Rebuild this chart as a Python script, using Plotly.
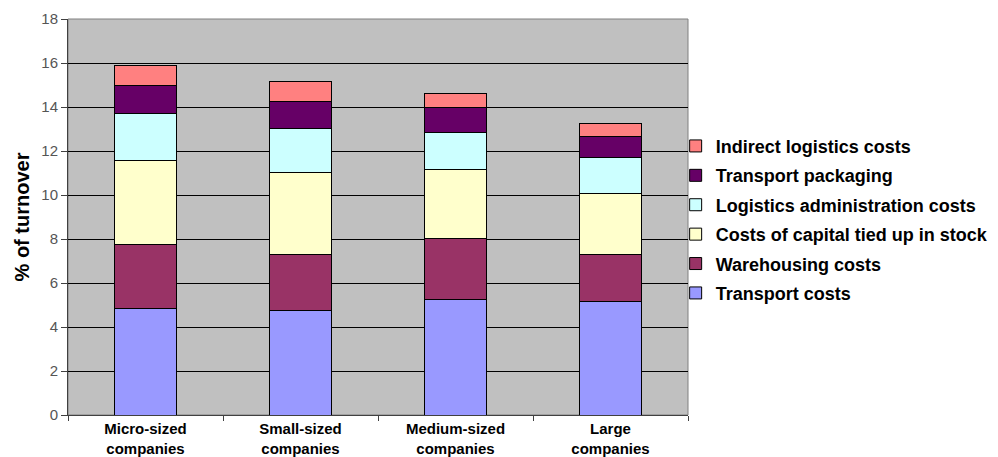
import plotly.graph_objects as go

# Logistics costs as a share of turnover, by company size
categories = [
    "Micro-sized<br>companies",
    "Small-sized<br>companies",
    "Medium-sized<br>companies",
    "Large<br>companies",
]

transport_costs = [4.83, 4.73, 5.27, 5.16]
warehousing_costs = [2.92, 2.58, 2.74, 2.13]
capital_in_stock = [3.84, 3.72, 3.17, 2.78]
admin_costs = [2.13, 1.99, 1.67, 1.64]
transport_packaging = [1.26, 1.25, 1.13, 0.97]
indirect_costs = [0.90, 0.89, 0.65, 0.57]

series = [
    ("Transport costs", transport_costs, "#9999FF"),
    ("Warehousing costs", warehousing_costs, "#993366"),
    ("Costs of capital tied up in stock", capital_in_stock, "#FFFFCC"),
    ("Logistics administration costs", admin_costs, "#CCFFFF"),
    ("Transport packaging", transport_packaging, "#660066"),
    ("Indirect logistics costs", indirect_costs, "#FF8080"),
]

FONT = "Liberation Sans, Arial, sans-serif"

fig = go.Figure()
for i, (name, values, color) in enumerate(series):
    fig.add_trace(go.Bar(
        x=categories,
        y=values,
        name=name,
        legendgroup=name,
        # top segment of the stack is listed first in the legend
        legendrank=1000 - i,
        marker=dict(color=color, line=dict(color="#000000", width=1)),
    ))

fig.update_layout(
    barmode="stack",
    bargap=0.605,
    width=998,
    height=457,
    margin=dict(l=68, r=310, t=19, b=42, autoexpand=False),
    paper_bgcolor="#FFFFFF",
    plot_bgcolor="#C0C0C0",
    font=dict(family=FONT, color="#000000"),
    showlegend=True,
    legend=dict(
        traceorder="grouped",
        tracegroupgap=3,
        xref="container",
        yref="container",
        x=0.677,
        xanchor="left",
        y=0.7205,
        yanchor="top",
        font=dict(family=FONT, size=18, color="#000000", weight="bold"),
        bgcolor="rgba(0,0,0,0)",
        itemwidth=30,
    ),
    xaxis=dict(
        type="category",
        tickson="boundaries",
        ticks="outside",
        ticklen=5,
        tickcolor="#404040",
        showline=True,
        linecolor="#404040",
        linewidth=1,
        showgrid=False,
        automargin=False,
        tickfont=dict(family=FONT, size=15, color="#000000", weight="bold"),
        range=[-0.5, 3.5],
    ),
    yaxis=dict(
        range=[0, 18],
        dtick=2,
        showgrid=True,
        gridcolor="#000000",
        gridwidth=1,
        zeroline=False,
        showline=True,
        linecolor="#404040",
        ticks="outside",
        ticklen=6,
        tickcolor="#404040",
        automargin=False,
        tickfont=dict(family=FONT, size=15, color="#555555"),
        title=dict(
            text="% of turnover",
            font=dict(family=FONT, size=20, color="#000000", weight="bold"),
            standoff=6,
        ),
    ),
)

# thin grey frame around the plotting area
fig.add_shape(
    type="rect", xref="paper", yref="paper",
    x0=0, x1=1, y0=0, y1=1,
    line=dict(color="#808080", width=1),
    layer="below",
)

fig.write_html("out.html")
